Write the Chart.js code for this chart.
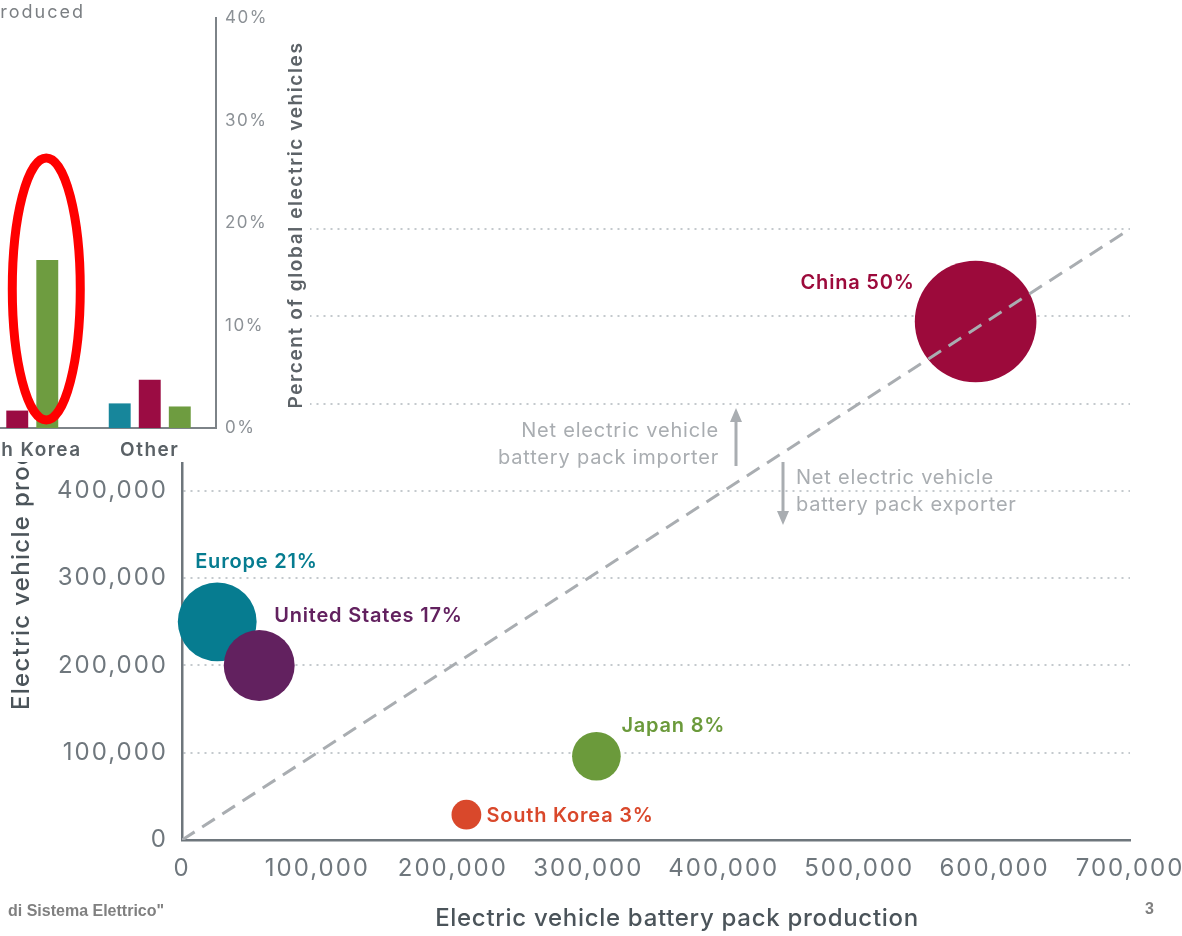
<!DOCTYPE html>
<html>
<head>
<meta charset="utf-8">
<script src="https://cdn.jsdelivr.net/npm/chart.js@4.4.1/dist/chart.umd.min.js"></script>
<style>
  html, body { margin: 0; padding: 0; background: #fff; overflow: hidden; }
  #wrap { position: relative; width: 1182px; height: 936px; }
  #mainChart { position: absolute; left: 0; top: 0; }
  #insetChart { position: absolute; left: -57px; top: 0; background: #fff; }
</style>
</head>
<body>
<div id="wrap">
  <canvas id="mainChart" width="1182" height="936"></canvas>
  <canvas id="insetChart" width="367" height="462"></canvas>
</div>
<script>
// battery pack production vs vehicle production, bubble size = share of global EVs
const regions = ['China', 'Europe', 'United States', 'Japan', 'South Korea'];
const packProduction = [586000, 26000, 57000, 306000, 210000];
const vehicleProduction = [594000, 250000, 200000, 96000, 29000];
const evShare = [50, 21, 17, 8, 3];
const regionColors = ['#9c0a3b', '#067c90', '#62215f', '#6b9a3b', '#d9482b'];
const axisTicks = [0, 100000, 200000, 300000, 400000, 500000, 600000, 700000];

// small bar chart in the corner (percent of global electric vehicles)
const insetCategories = ['South Korea', 'Other'];
const evSold = [null, 2.4];
const evProduced = [1.7, 4.7];
const packsProduced = [16.4, 2.1];
const insetTicks = [0, 10, 20, 30, 40];

const FONT = 'Inter, "Open Sans", sans-serif';
Chart.defaults.font.family = FONT;
Chart.defaults.animation = false;

const GREY = '#a9adb1';
const TITLE = '#4b545a';

// wide tick lettering for the whole chart
const spacing = px => ({
  id: 'spacing',
  beforeLayout(chart) { chart.ctx.letterSpacing = px; },
  beforeDraw(chart) { chart.ctx.letterSpacing = px; }
});

// axis titles, bubble labels, importer/exporter notes, footer
const mainDecor = {
  id: 'mainDecor',
  afterDatasetsDraw(chart) {
    const ctx = chart.ctx;
    const meta = chart.getDatasetMeta(1);
    const offsets = {
      'China': [-61, -39, 'right'],
      'Europe': [-22, -60, 'left'],
      'United States': [15, -49, 'left'],
      'Japan': [25, -30, 'left'],
      'South Korea': [20, 1, 'left']
    };
    ctx.save();
    ctx.letterSpacing = '0.8px';
    ctx.font = '600 20px ' + FONT;
    ctx.textBaseline = 'middle';
    meta.data.forEach((pt, i) => {
      const o = offsets[regions[i]];
      ctx.fillStyle = regionColors[i];
      ctx.textAlign = o[2];
      ctx.fillText(regions[i] + ' ' + evShare[i] + '%', pt.x + o[0], pt.y + o[1]);
    });

    // importer / exporter notes
    ctx.font = '20px ' + FONT;
    ctx.fillStyle = GREY;
    ctx.textAlign = 'right';
    ctx.fillText('Net electric vehicle', 719, 431);
    ctx.fillText('battery pack importer', 719, 458);
    ctx.textAlign = 'left';
    ctx.fillText('Net electric vehicle', 796, 478);
    ctx.fillText('battery pack exporter', 796, 505);

    ctx.strokeStyle = GREY;
    ctx.lineWidth = 3;
    ctx.beginPath();
    ctx.moveTo(736, 466); ctx.lineTo(736, 418);
    ctx.moveTo(783, 462); ctx.lineTo(783, 514);
    ctx.stroke();
    ctx.beginPath();
    ctx.moveTo(736, 408); ctx.lineTo(730, 422); ctx.lineTo(742, 422); ctx.closePath();
    ctx.moveTo(783, 525); ctx.lineTo(777, 511); ctx.lineTo(789, 511); ctx.closePath();
    ctx.fill();

    // axis titles
    ctx.letterSpacing = '0.7px';
    ctx.font = '500 24px ' + FONT;
    ctx.fillStyle = TITLE;
    ctx.textAlign = 'center';
    ctx.fillText('Electric vehicle battery pack production', 677, 919);
    ctx.save();
    ctx.letterSpacing = '1.3px';
    ctx.translate(22, 710);
    ctx.rotate(-Math.PI / 2);
    ctx.textAlign = 'left';
    ctx.fillText('Electric vehicle production', 0, 0);
    ctx.restore();

    // slide footer
    ctx.letterSpacing = '0px';
    ctx.font = 'bold 16px "Liberation Sans", Arial, sans-serif';
    ctx.fillStyle = '#808080';
    ctx.textAlign = 'left';
    ctx.fillText('di Sistema Elettrico"', 8, 912);
    ctx.fillText('3', 1145, 910);
    ctx.restore();
  }
};

new Chart(document.getElementById('mainChart'), {
  type: 'bubble',
  data: {
    datasets: [
      {
        type: 'line',
        data: [{ x: 0, y: 0 }, { x: 700000, y: 700000 }],
        borderColor: GREY,
        borderWidth: 3,
        borderDash: [15, 9],
        pointRadius: 0,
        order: 0
      },
      {
        data: regions.map((r, i) => ({
          x: packProduction[i],
          y: vehicleProduction[i],
          r: 8.6 * Math.sqrt(evShare[i])
        })),
        backgroundColor: regionColors,
        borderWidth: 0,
        clip: false,
        order: 1
      }
    ]
  },
  options: {
    responsive: false,
    layout: { autoPadding: false, padding: { left: 0, top: 229, right: 52, bottom: 0 } },
    plugins: { legend: { display: false }, tooltip: { enabled: false } },
    scales: {
      x: {
        type: 'linear',
        min: 0,
        max: 700000,
        afterBuildTicks: s => { s.ticks = axisTicks.map(v => ({ value: v })); },
        ticks: {
          callback: v => v.toLocaleString('en-US'),
          font: { size: 24 },
          color: '#6f777d',
          padding: 14,
          maxRotation: 0
        },
        grid: { display: false, drawTicks: false },
        border: { display: true, color: '#6e767c', width: 2.5 },
        afterFit: s => { s.height = 96; s.paddingLeft = 0; s.paddingRight = 0; }
      },
      y: {
        type: 'linear',
        min: 0,
        max: 700000,
        afterBuildTicks: s => { s.ticks = axisTicks.map(v => ({ value: v })); },
        ticks: {
          callback: v => v.toLocaleString('en-US'),
          font: { size: 24 },
          color: '#6f777d',
          padding: 14
        },
        grid: { color: '#c4c9cd', lineWidth: 2, drawTicks: false },
        border: { display: true, color: '#6e767c', width: 2.5, dash: [2, 5] },
        afterFit: s => { s.width = 182; s.paddingTop = 0; s.paddingBottom = 0; }
      }
    }
  },
  plugins: [spacing('2px'), mainDecor]
});

// rotated axis title, cut-off legend text and the red highlight ring
const insetDecor = {
  id: 'insetDecor',
  afterDraw(chart) {
    const ctx = chart.ctx;
    ctx.save();
    ctx.fillStyle = '#5d6368';
    ctx.letterSpacing = '1.6px';
    ctx.font = '600 19px ' + FONT;
    ctx.textAlign = 'center';
    ctx.textBaseline = 'middle';
    ctx.translate(353, 225);
    ctx.rotate(-Math.PI / 2);
    ctx.fillText('Percent of global electric vehicles', 0, 0);
    ctx.restore();

    ctx.save();
    ctx.fillStyle = '#7b7f83';
    ctx.letterSpacing = '2px';
    ctx.font = '18px ' + FONT;
    ctx.textAlign = 'right';
    ctx.textBaseline = 'middle';
    ctx.fillText('Battery packs produced', 142, 13);

    const bar = chart.getDatasetMeta(2).data[0];
    ctx.strokeStyle = '#ff0000';
    ctx.lineWidth = 9;
    ctx.beginPath();
    ctx.ellipse(bar.x - 1, 289, 34, 131, 0, 0, Math.PI * 2);
    ctx.stroke();
    ctx.restore();
  }
};

new Chart(document.getElementById('insetChart'), {
  type: 'bar',
  data: {
    labels: insetCategories,
    datasets: [
      { label: 'Electric vehicles sold', data: evSold, backgroundColor: '#17869b' },
      { label: 'Electric vehicles produced', data: evProduced, backgroundColor: '#9b0c43' },
      { label: 'Battery packs produced', data: packsProduced, backgroundColor: '#6e9c40' }
    ]
  },
  options: {
    responsive: false,
    layout: { autoPadding: false, padding: { left: 8, top: 18, right: 0, bottom: 0 } },
    datasets: { bar: { categoryPercentage: 0.68, barPercentage: 0.73 } },
    plugins: { legend: { display: false }, tooltip: { enabled: false } },
    scales: {
      x: {
        grid: { display: false, drawTicks: false },
        border: { color: '#7d8388', width: 2 },
        ticks: { font: { size: 19, weight: '600' }, color: '#5a6166', padding: 11, maxRotation: 0 },
        afterFit: s => { s.height = 34; s.paddingLeft = 0; s.paddingRight = 0; }
      },
      y: {
        position: 'right',
        min: 0,
        max: 40,
        afterBuildTicks: s => { s.ticks = insetTicks.map(v => ({ value: v })); },
        ticks: { callback: v => v + '%', font: { size: 17 }, color: '#8c9196', padding: 9 },
        grid: { display: false, drawTicks: false },
        border: { color: '#7d8388', width: 2 },
        afterFit: s => { s.width = 94; s.paddingTop = 0; s.paddingBottom = 0; }
      }
    }
  },
  plugins: [spacing('1.5px'), insetDecor]
});
</script>
</body>
</html>
